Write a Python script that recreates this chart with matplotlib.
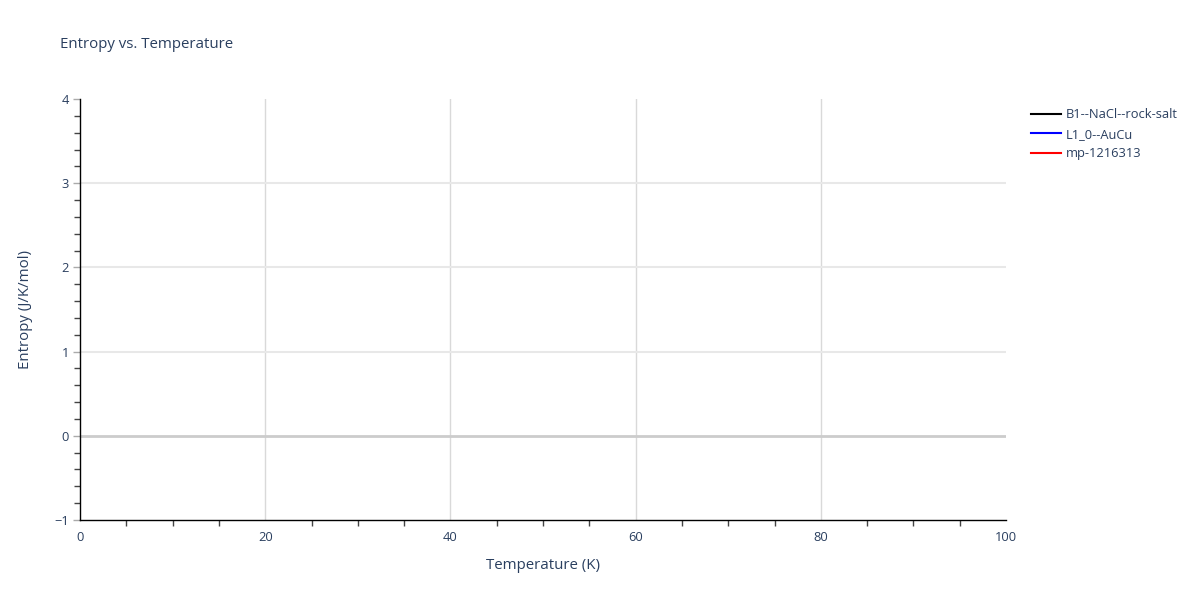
import matplotlib.pyplot as plt
from matplotlib.ticker import MultipleLocator

plt.rcParams['font.family'] = ['Open Sans', 'DejaVu Sans']

# series (no data points in the reference, only legend entries)
series_names = ['B1--NaCl--rock-salt', 'L1_0--AuCu', 'mp-1216313']
series_colors = ['black', 'blue', 'red']
temps = [[], [], []]
entropy = [[], [], []]

x_range = (0, 100)
y_range = (-1, 4)
x_grid = [20, 40, 60, 80]
y_grid = [1, 2, 3]

text_col = '#2a3f5f'

fig = plt.figure(figsize=(12, 6), dpi=100)
ax = fig.add_axes([80 / 1200, 80 / 600, 926 / 1200, 421 / 600])

lines = []
for name, col, t, s in zip(series_names, series_colors, temps, entropy):
    ln, = ax.plot(t, s, color=col, lw=1.5, label=name)
    lines.append(ln)

ax.set_xlim(*x_range)
ax.set_ylim(*y_range)

# grid (interior lines only, like plotly)
for gx in x_grid:
    ax.axvline(gx, color='#d9d9d9', lw=1, zorder=0)
for gy in y_grid:
    ax.axhline(gy, color='#e8e8e8', lw=1.5, zorder=0)
ax.axhline(0, color='#cccccc', lw=2, zorder=1)

ax.xaxis.set_major_locator(MultipleLocator(20))
ax.xaxis.set_minor_locator(MultipleLocator(5))
ax.yaxis.set_major_locator(MultipleLocator(1))
ax.yaxis.set_minor_locator(MultipleLocator(0.2))

for sp in ['top', 'right']:
    ax.spines[sp].set_visible(False)
for sp in ['left', 'bottom']:
    ax.spines[sp].set_color('black')
    ax.spines[sp].set_linewidth(1)

ax.tick_params(axis='x', which='major', direction='out', length=4, width=1,
               color='white', labelcolor=text_col, labelsize=9.3, pad=4)
ax.tick_params(axis='y', which='major', direction='out', length=5, width=1,
               color='#aaaaaa', labelcolor=text_col, labelsize=9.3, pad=3)
ax.tick_params(axis='both', which='minor', direction='out', length=4, width=1,
               color='#444444')

ax.set_xlabel('Temperature (K)', color=text_col, fontsize=10.8, labelpad=10)
ax.set_ylabel('Entropy (J/K/mol)', color=text_col, fontsize=10.8, labelpad=15)

fig.text(60 / 1200, 1 - 45 / 600, 'Entropy vs. Temperature', color=text_col,
         fontsize=10.8, va='center', ha='left')

fig.legend(handles=lines, loc='upper left', bbox_to_anchor=(1026 / 1200, 1 - 103 / 600),
           frameon=False, fontsize=9.3, labelcolor=text_col, handlelength=2.3,
           handletextpad=0.4, labelspacing=0.5, borderaxespad=0)

fig.savefig('out.png', dpi=100)
